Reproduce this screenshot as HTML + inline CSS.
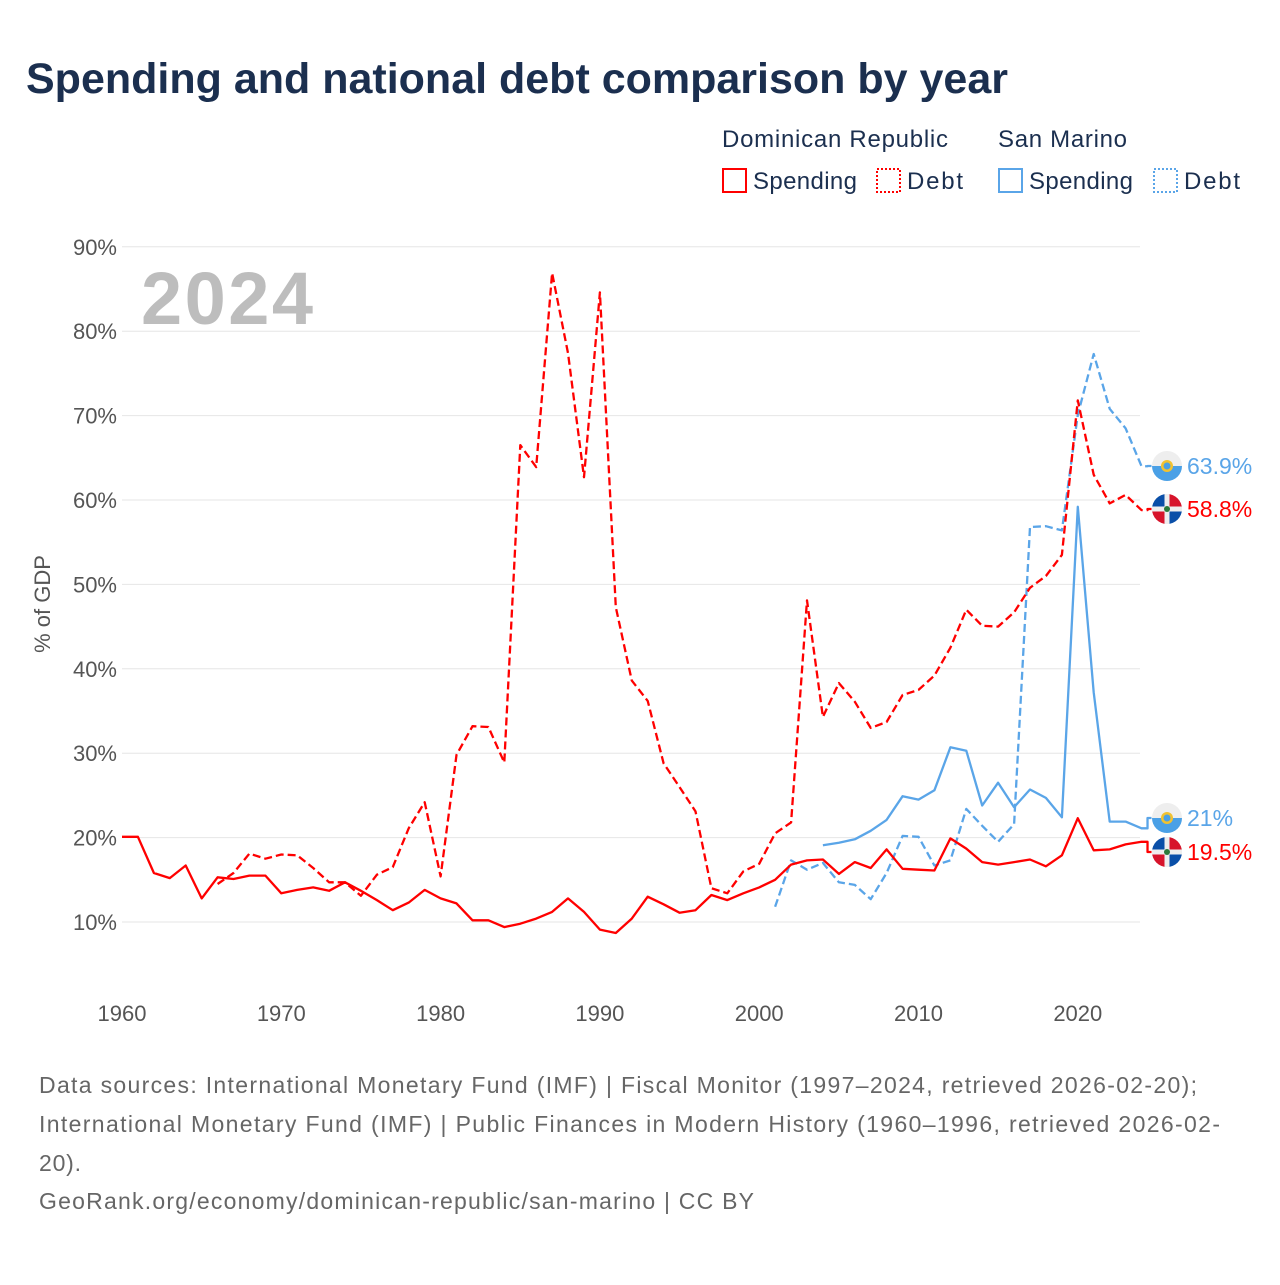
<!DOCTYPE html>
<html><head><meta charset="utf-8">
<style>
body{margin:0;background:#fff;width:1280px;height:1280px;overflow:hidden;font-family:"Liberation Sans",sans-serif}
</style></head>
<body>
<svg id="chart" width="1280" height="1280" xmlns="http://www.w3.org/2000/svg" font-family="Liberation Sans, sans-serif">
<text x="26" y="93" font-size="43" font-weight="bold" fill="#1b2f4f">Spending and national debt comparison by year</text>
<g font-size="24" fill="#1b2f4f">
<text x="722" y="147" textLength="226" lengthAdjust="spacing">Dominican Republic</text>
<text x="998" y="147" textLength="129" lengthAdjust="spacing">San Marino</text>
<g><rect x="723" y="169" width="23" height="23" fill="none" stroke="#f00" stroke-width="2"/><text x="753" y="189" textLength="104" lengthAdjust="spacing">Spending</text></g>
<g><rect x="877" y="169" width="23" height="23" fill="none" stroke="#f00" stroke-width="2" stroke-dasharray="2,2"/><text x="907" y="189" textLength="56" lengthAdjust="spacing">Debt</text></g>
<g><rect x="999" y="169" width="23" height="23" fill="none" stroke="#5aa5e8" stroke-width="2"/><text x="1029" y="189" textLength="104" lengthAdjust="spacing">Spending</text></g>
<g><rect x="1154" y="169" width="23" height="23" fill="none" stroke="#5aa5e8" stroke-width="2" stroke-dasharray="2,2"/><text x="1184" y="189" textLength="56" lengthAdjust="spacing">Debt</text></g>
</g>
<text x="141" y="324" font-size="74" font-weight="bold" fill="#bdbdbd" textLength="172" lengthAdjust="spacing">2024</text>
<text transform="translate(50,604) rotate(-90)" text-anchor="middle" font-size="22" fill="#555">% of GDP</text>
<g id="grid"></g><g id="series"></g><g id="labels"></g>
<g font-size="23" fill="#666">
<text x="39" y="1093" textLength="1158" lengthAdjust="spacing">Data sources: International Monetary Fund (IMF) | Fiscal Monitor (1997–2024, retrieved 2026-02-20);</text>
<text x="39" y="1132" textLength="1181" lengthAdjust="spacing">International Monetary Fund (IMF) | Public Finances in Modern History (1960–1996, retrieved 2026-02-</text>
<text x="39" y="1171" textLength="42" lengthAdjust="spacing">20).</text>
<text x="39" y="1209" textLength="715" lengthAdjust="spacing">GeoRank.org/economy/dominican-republic/san-marino | CC BY</text>
</g>
</svg>
<script>
const yTicks=[10,20,30,40,50,60,70,80,90];
const xTicks=[1960,1970,1980,1990,2000,2010,2020];
const drSpendStart=1960;
const drSpending=[20.1,20.1,15.8,15.2,16.7,12.8,15.3,15.1,15.5,15.5,13.4,13.8,14.1,13.7,14.7,13.7,12.6,11.4,12.3,13.8,12.8,12.2,10.2,10.2,9.4,9.8,10.4,11.2,12.8,11.2,9.1,8.7,10.4,13.0,12.1,11.1,11.4,13.2,12.6,13.4,14.1,15.0,16.8,17.3,17.4,15.7,17.1,16.4,18.6,16.3,16.2,16.1,19.9,18.7,17.1,16.8,17.1,17.4,16.6,17.9,22.3,18.5,18.6,19.2,19.5];
const drDebtStart=1966;
const drDebt=[14.5,15.8,18.1,17.5,18.0,17.9,16.4,14.7,14.7,13.1,15.6,16.5,21.1,24.2,15.4,29.8,33.2,33.1,28.9,66.5,63.9,86.9,77.4,62.7,84.6,47.3,38.6,36.2,28.8,26.0,23.1,14.0,13.4,16.0,16.9,20.5,21.8,48.1,34.3,38.3,36.1,33.0,33.7,36.9,37.5,39.2,42.5,47.0,45.1,45.0,46.7,49.6,51.0,53.5,71.8,63.0,59.6,60.6,58.8];
const smSpendStart=2004;
const smSpending=[19.1,19.4,19.8,20.8,22.1,24.9,24.5,25.6,30.7,30.3,23.8,26.5,23.6,25.7,24.7,22.4,59.2,37.2,21.9,21.9,21.1];
const smDebtStart=2001;
const smDebt=[11.8,17.3,16.2,17.0,14.7,14.4,12.7,15.8,20.2,20.1,16.7,17.3,23.4,21.4,19.5,21.6,56.8,56.9,56.4,70.1,77.3,70.8,68.5,64.0];
const endLabels=["63.9%","58.8%","21%","19.5%"];

const NS="http://www.w3.org/2000/svg";
const X=yr=>122+(yr-1960)*15.93;
const Y=v=>922-(v-10)*8.44;
function mk(tag,attrs,parent){const e=document.createElementNS(NS,tag);for(const k in attrs)e.setAttribute(k,attrs[k]);parent.appendChild(e);return e;}
const grid=document.getElementById('grid'),ser=document.getElementById('series'),lab=document.getElementById('labels');
yTicks.forEach(t=>{
  const l=mk('line',{x1:122,x2:1140,y1:Y(t),y2:Y(t),stroke:'#e6e6e6','stroke-width':1},grid);
  
  
  const tx=mk('text',{x:117,y:Y(t)+8,'text-anchor':'end','font-size':22,fill:'#555'},grid);
  tx.textContent=t+'%';
  
  
});
xTicks.forEach(t=>{
  const tx=mk('text',{x:X(t),y:1021,'text-anchor':'middle','font-size':22,fill:'#555'},grid);
  tx.textContent=t;
  
  
});
function line(arr,start,color,dash,name,labelY){
  let d=arr.map((v,i)=>(i?'L':'M')+X(start+i).toFixed(1)+' '+Y(v).toFixed(1)).join(' ');
  const lx=X(start+arr.length-1), ly=Y(arr[arr.length-1]);
  d+=` L${lx+6} ${ly} L${lx+6} ${labelY} L${lx+10} ${labelY}`;
  const p=mk('path',{d:d,fill:'none',stroke:color,'stroke-width':2.3,'stroke-linejoin':'round'},ser);
  if(dash)p.setAttribute('stroke-dasharray','8,4');
  
  
}
function flag(cx,cy,type,name){
  const g=mk('g',{},lab);
  
  
  const r=15;
  if(type==='dr'){
    mk('path',{d:`M${cx} ${cy} L${cx-r} ${cy} A${r} ${r} 0 0 1 ${cx} ${cy-r}Z`,fill:'#0a4fa8'},g);
    mk('path',{d:`M${cx} ${cy} L${cx} ${cy-r} A${r} ${r} 0 0 1 ${cx+r} ${cy}Z`,fill:'#d7142b'},g);
    mk('path',{d:`M${cx} ${cy} L${cx+r} ${cy} A${r} ${r} 0 0 1 ${cx} ${cy+r}Z`,fill:'#0a4fa8'},g);
    mk('path',{d:`M${cx} ${cy} L${cx} ${cy+r} A${r} ${r} 0 0 1 ${cx-r} ${cy}Z`,fill:'#d7142b'},g);
    mk('rect',{x:cx-r,y:cy-2.5,width:2*r,height:5,fill:'#eee'},g);
    mk('rect',{x:cx-2.5,y:cy-r,width:5,height:2*r,fill:'#eee'},g);
    mk('circle',{cx:cx,cy:cy,r:3,fill:'#2a7a3a'},g);
  }else{
    mk('path',{d:`M${cx-r} ${cy} A${r} ${r} 0 0 1 ${cx+r} ${cy}Z`,fill:'#eee'},g);
    mk('path',{d:`M${cx-r} ${cy} A${r} ${r} 0 0 0 ${cx+r} ${cy}Z`,fill:'#4aa0e6'},g);
    mk('circle',{cx:cx,cy:cy,r:6,fill:'#f2c230'},g);
    mk('circle',{cx:cx,cy:cy,r:3.5,fill:'#4aa0e6'},g);
  }
}
line(smDebt,smDebtStart,'#5aa5e8',true,'line-sm-debt',466);
line(drDebt,drDebtStart,'#ff0000',true,'line-dr-debt',509);
line(smSpending,smSpendStart,'#5aa5e8',false,'line-sm-spending',818);
line(drSpending,drSpendStart,'#ff0000',false,'line-dr-spending',852);
const lys=[466,509,818,852],cols=['#5aa5e8','#ff0000','#5aa5e8','#ff0000'],types=['sm','dr','sm','dr'];
endLabels.forEach((t,i)=>{
  flag(1167,lys[i],types[i],'flag-'+i);
  const tx=mk('text',{x:1187,y:lys[i]+8,'font-size':23,fill:cols[i]},lab);
  tx.textContent=t;
  
  
});
</script>
</body></html>
